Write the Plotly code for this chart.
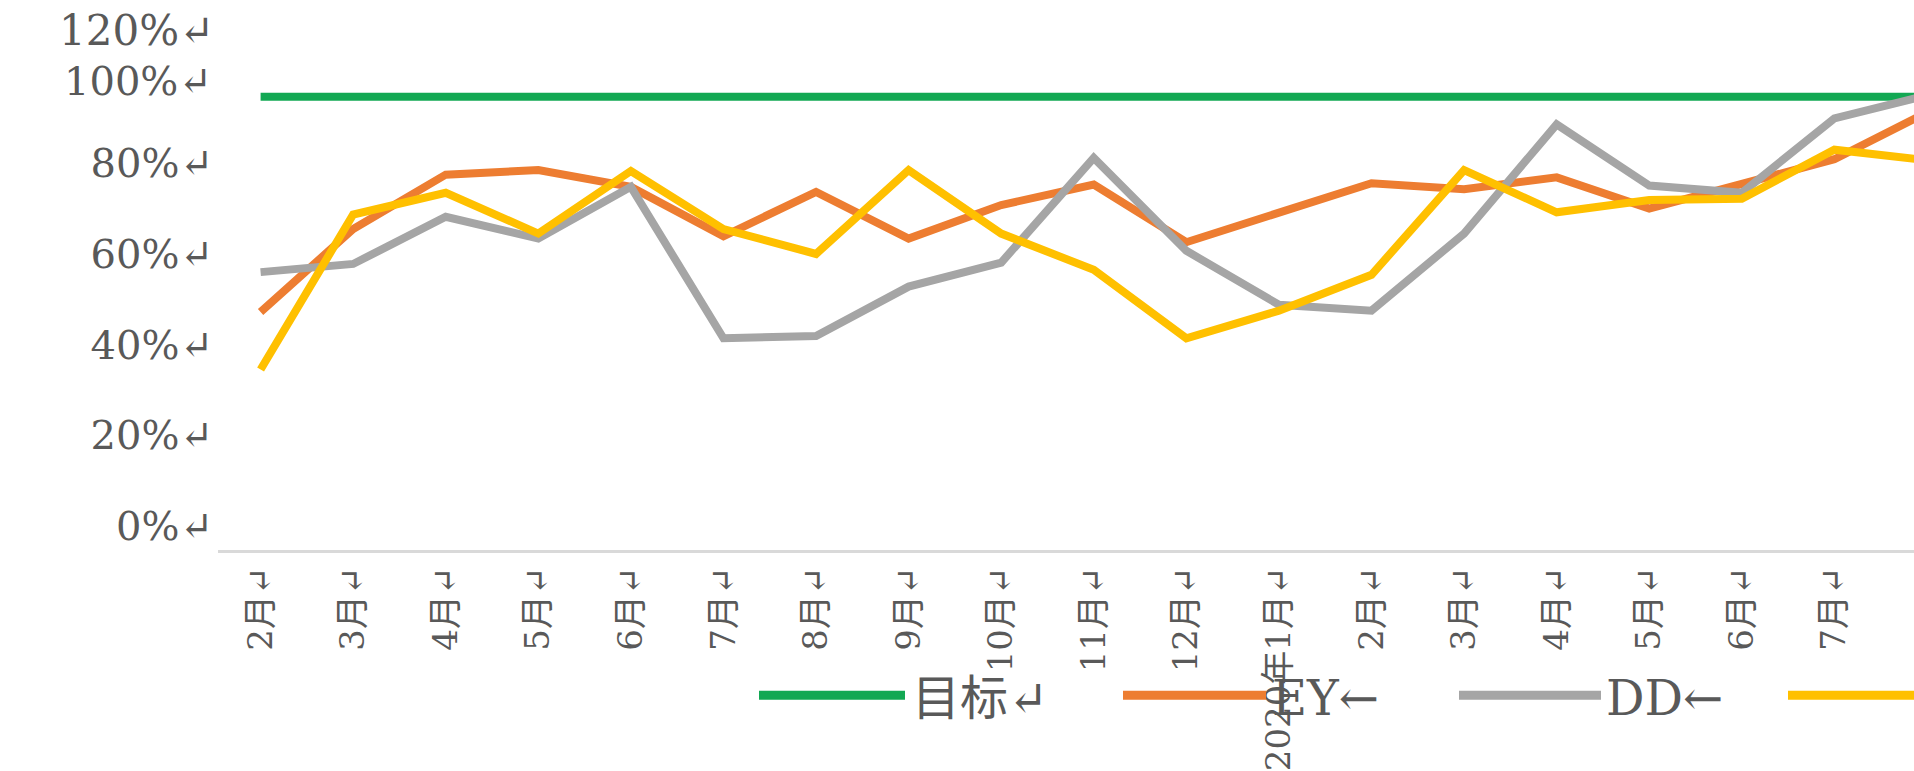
import plotly.graph_objects as go

# ---- data ----
categories = ["2月↵", "3月↵", "4月↵", "5月↵", "6月↵", "7月↵", "8月↵", "9月↵", "10月↵",
              "11月↵", "12月↵", "2020年1月↵", "2月↵", "3月↵", "4月↵", "5月↵", "6月↵",
              "7月↵", "8月↵"]
series_names = ["目标↵", "EY←", "DD←", "LY←"]
target = [100, 100, 100, 100, 100, 100, 100, 100, 100, 100,
          100, 100, 100, 100, 100, 100, 100, 100, 100]
ey = [52.5, 70.8, 82.8, 83.8, 80.1, 69.2, 79.0, 68.7, 76.1, 80.6,
      67.9, 74.3, 80.9, 79.6, 82.2, 75.3, 80.9, 86.2, 96.5]
dd = [61.3, 63.1, 73.5, 68.7, 80.1, 46.7, 47.2, 58.1, 63.4, 86.5,
      66.0, 54.1, 52.8, 69.8, 93.9, 80.4, 78.8, 95.2, 100.3]
ly = [39.8, 74.0, 78.8, 69.8, 83.6, 70.8, 65.3, 83.8, 69.8, 61.8,
      46.7, 52.8, 60.7, 83.8, 74.5, 77.2, 77.5, 88.3, 86.0]
y_tick_vals = [0, 20, 40, 60, 80]
y_tick_text = ["0%↵", "20%↵", "40%↵", "60%↵", "80%↵"]
y_upper_vals = [100, 120]
y_upper_text = ["100%↵", "120%↵"]

colors = ["#12A853", "#ED7D31", "#A5A5A5", "#FFC000"]
series = [target, ey, dd, ly]

W, H = 1914, 771
L, T, B = 218, 6, 214
plot_w = W - L
plot_h = H - T - B

TEXT = "#595959"
SERIF = "DejaVu Serif, Noto Sans CJK SC, serif"

xs = list(range(len(categories)))

fig = go.Figure()
for name, vals, col in zip(series_names, series, colors):
    fig.add_trace(go.Scatter(x=xs, y=vals, mode="lines", name=name,
                             line=dict(color=col, width=8), showlegend=False))


def px_x(p):
    return (p - L) / plot_w


def px_y(p):
    return (H - B - p) / plot_h


# manual legend (long line samples as in the reference); the 4th label lies off the picture
legend_items = [(759, 905, 910), (1123, 1266, 1270), (1459, 1601, 1604), (1788, 1930, None)]
leg_y = 704
shapes = []
annotations = []
for (x0, x1, tx), name, col in zip(legend_items, series_names, colors):
    shapes.append(dict(type="line", xref="paper", yref="paper",
                       x0=px_x(x0), x1=px_x(min(x1, W)), y0=px_y(leg_y), y1=px_y(leg_y),
                       line=dict(color=col, width=9)))
    if tx is not None:
        annotations.append(dict(xref="paper", yref="paper", x=px_x(tx), y=px_y(leg_y + 3),
                                text=name, showarrow=False, xanchor="left", yanchor="middle",
                                font=dict(size=48, color=TEXT, family=SERIF)))

# the two upper y labels sit at their own offsets in the reference
for val, txt, ysh in zip(y_upper_vals, y_upper_text, [16, -24]):
    annotations.append(dict(xref="paper", yref="y", x=0, y=val, text=txt,
                            showarrow=False, xanchor="right", yanchor="middle",
                            xshift=-4 if val == 100 else -2, yshift=ysh,
                            font=dict(size=40 if val == 100 else 42, color=TEXT, family=SERIF)))

fig.update_layout(
    width=W, height=H,
    margin=dict(l=L, r=0, t=T, b=B),
    paper_bgcolor="white", plot_bgcolor="white",
    shapes=shapes, annotations=annotations,
)
fig.update_xaxes(
    range=[-0.46, 17.86],
    tickmode="array", tickvals=xs, ticktext=categories,
    tickangle=-90, tickfont=dict(size=34, color=TEXT, family=SERIF),
    showgrid=False, zeroline=False,
    showline=True, linecolor="#D9D9D9", linewidth=3,
    ticks="", ticklen=0, ticklabelstandoff=0,
)
fig.update_yaxes(
    range=[0, 120],
    tickmode="array", tickvals=y_tick_vals, ticktext=y_tick_text,
    tickfont=dict(size=40, color=TEXT, family=SERIF),
    showgrid=False, zeroline=False, showline=False, ticks="", ticklen=0,
    ticklabelshift=-24, ticklabelstandoff=4,
)

fig.write_html("out.html", config={"displayModeBar": False},
               post_script="document.body.style.margin='0';document.body.style.padding='0';")
